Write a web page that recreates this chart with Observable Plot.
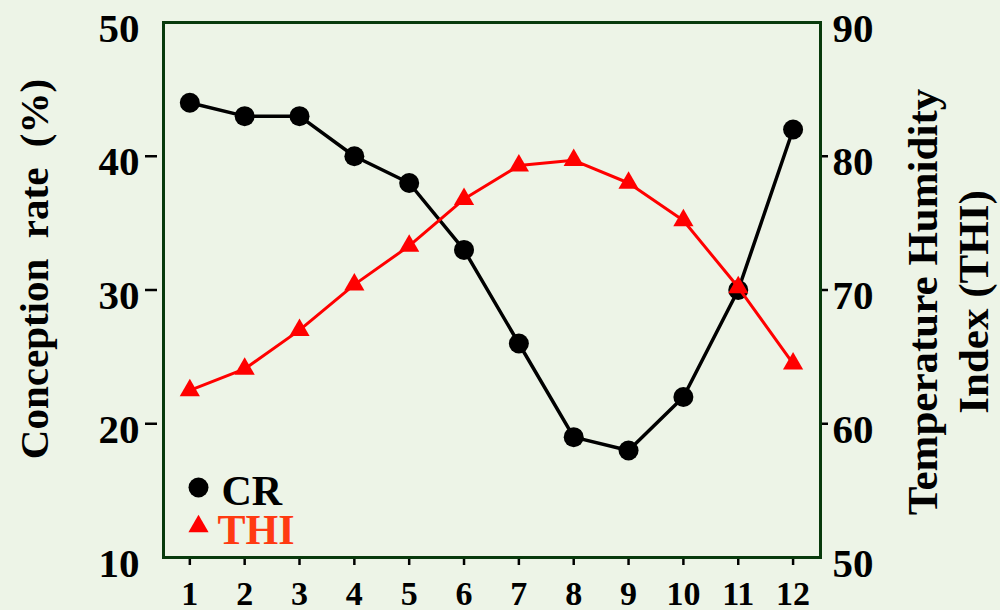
<!DOCTYPE html>
<html>
<head>
<meta charset="utf-8">
<script src="https://cdn.jsdelivr.net/npm/d3@7"></script>
<script src="https://cdn.jsdelivr.net/npm/@observablehq/plot@0.6"></script>
<style>
  html, body { margin: 0; padding: 0; background: #edf4e7; }
  #chart { width: 1000px; height: 610px; }
</style>
</head>
<body>
<div id="chart"></div>
<script>
const months = [1, 2, 3, 4, 5, 6, 7, 8, 9, 10, 11, 12];
const crValues = [44, 43, 43, 40, 38, 33, 26, 19, 18, 22, 30, 42];
const thiValues = [62.5, 64.1, 67.0, 70.4, 73.3, 76.8, 79.3, 79.7, 78.0, 75.2, 70.2, 64.5];
const leftTicks = [10, 20, 30, 40, 50];
const rightTicks = [50, 60, 70, 80, 90];
const thiOffset = 40; // right axis 50–90 shares the left scale 10–50

const crData = months.map((m, i) => ({month: m, value: crValues[i]}));
const thiData = months.map((m, i) => ({month: m, value: thiValues[i] - thiOffset}));

const font = "'Liberation Serif', 'Times New Roman', serif";
const frameColor = "#083a0c";

const chart = Plot.plot({
  width: 1000,
  height: 610,
  marginLeft: 163,
  marginRight: 180,
  marginTop: 22,
  marginBottom: 53,
  style: {background: "#edf4e7", fontFamily: font, fontWeight: "bold", color: "#000", overflow: "visible"},
  x: {domain: [0.52, 12.5], axis: null},
  y: {domain: [10, 50], axis: null},
  marks: [
    // left axis labels
    Plot.axisY(leftTicks, {anchor: "left", tickSize: 0, tickPadding: 24, dy: 6, fontSize: 41, fontWeight: "bold", label: null}),
    Plot.axisY(leftTicks.slice(1, -1), {anchor: "left", tickSize: 12, dx: -6, strokeWidth: 2.5, label: null, text: null}),
    // right axis (THI)
    Plot.axisY(rightTicks.map(d => d - thiOffset), {anchor: "right", tickSize: 0, tickPadding: 12, dy: 6, fontSize: 41, fontWeight: "bold", tickFormat: d => d + thiOffset, label: null}),
    Plot.axisY(rightTicks.slice(1, -1).map(d => d - thiOffset), {anchor: "right", tickSize: 7, strokeWidth: 2.5, label: null, text: null}),
    // x axis
    Plot.axisX(months, {tickSize: 8, tickPadding: 15, strokeWidth: 2.5, fontSize: 34, fontWeight: "bold", label: null}),
    // axis titles
    Plot.text(["Conception  rate  (%)"], {frameAnchor: "left", textAnchor: "middle", lineAnchor: "middle", dx: -129, dy: -21, rotate: -90, fontSize: 41, fontWeight: "bold", fill: "#000"}),
    Plot.text(["Temperature Humidity\nIndex (THI)"], {frameAnchor: "right", textAnchor: "middle", lineAnchor: "middle", dx: 126, dy: 12, rotate: -90, fontSize: 43, fontWeight: "bold", fill: "#000", lineHeight: 1.19}),
    // frame
    Plot.frame({stroke: frameColor, strokeWidth: 3}),
    // series
    Plot.line(crData, {x: "month", y: "value", stroke: "#000", strokeWidth: 3.5}),
    Plot.dot(crData, {x: "month", y: "value", r: 10, fill: "#000", symbol: "circle"}),
    Plot.line(thiData, {x: "month", y: "value", stroke: "#ff0000", strokeWidth: 3}),
    Plot.dot(thiData, {x: "month", y: "value", r: 7.5, fill: "#ff0000", symbol: "triangle"}),
    // legend
    Plot.dot([0], {frameAnchor: "bottom-left", dx: 35, dy: -70, r: 10, fill: "#000", symbol: "circle"}),
    Plot.text(["CR"], {frameAnchor: "bottom-left", lineAnchor: "middle", dx: 58, dy: -66, textAnchor: "start", fontSize: 42, fontWeight: "bold", fill: "#000"}),
    Plot.dot([0], {frameAnchor: "bottom-left", dx: 35, dy: -31, r: 7.5, fill: "#ff0000", symbol: "triangle"}),
    Plot.text(["THI"], {frameAnchor: "bottom-left", lineAnchor: "middle", dx: 54, dy: -27, textAnchor: "start", fontSize: 42, fontWeight: "bold", fill: "#ff3a12"})
  ]
});
document.getElementById("chart").append(chart);
</script>
</body>
</html>
